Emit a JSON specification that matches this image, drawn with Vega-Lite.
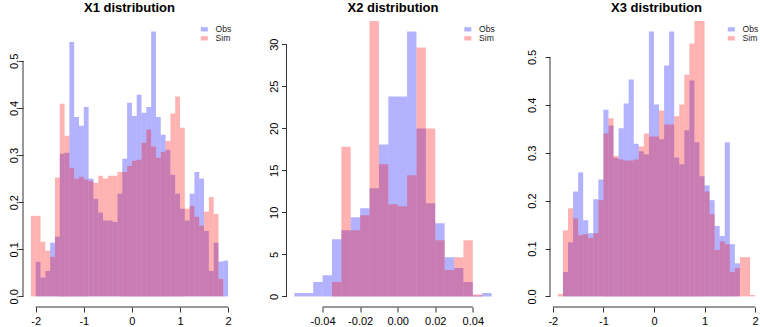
{
  "$schema": "https://vega.github.io/schema/vega-lite/v6.json",
  "padding": {"left": 8, "top": 1, "right": 0, "bottom": 8},
  "bounds": "flush",
  "spacing": 50.5,
  "config": {
    "view": {"stroke": null},
    "font": "Liberation Sans",
    "axis": {"domain": false, "grid": false, "title": null, "labelFont": "Liberation Sans", "labelFontSize": 11, "labelColor": "#000", "tickColor": "#333", "tickSize": 5, "labelFlush": false, "labelOverlap": false},
    "axisX": {"labelPadding": 12.5, "labelBaseline": "alphabetic"},
    "axisY": {"labelAngle": 270, "labelAlign": "center", "labelBaseline": "alphabetic", "labelPadding": 1},
    "title": {"fontSize": 13, "fontWeight": "bold", "color": "#000", "anchor": "middle", "offset": 6.5, "baseline": "alphabetic", "font": "Liberation Sans"},
    "legend": {"title": null, "orient": "top-right", "offset": 4, "padding": 0, "symbolType": "M-1,-0.62H1V0.62H-1Z", "symbolSize": 49, "symbolStrokeWidth": 0, "labelFontSize": 8.6, "labelFont": "Liberation Sans", "labelColor": "#222", "labelOffset": 7, "rowPadding": 0}
  },
  "resolve": {"scale": {"color": "independent"}, "legend": {"color": "independent"}},
  "datasets": {
    "x1": [
      {"series":"Obs","lo":-2.0,"hi":-1.9,"density":0.0735},
      {"series":"Obs","lo":-1.9,"hi":-1.8,"density":0.040},
      {"series":"Obs","lo":-1.8,"hi":-1.7,"density":0.054},
      {"series":"Obs","lo":-1.7,"hi":-1.6,"density":0.114},
      {"series":"Obs","lo":-1.6,"hi":-1.5,"density":0.127},
      {"series":"Obs","lo":-1.5,"hi":-1.4,"density":0.303},
      {"series":"Obs","lo":-1.4,"hi":-1.3,"density":0.305},
      {"series":"Obs","lo":-1.3,"hi":-1.2,"density":0.540},
      {"series":"Obs","lo":-1.2,"hi":-1.1,"density":0.381},
      {"series":"Obs","lo":-1.1,"hi":-1.0,"density":0.362},
      {"series":"Obs","lo":-1.0,"hi":-0.9,"density":0.402},
      {"series":"Obs","lo":-0.9,"hi":-0.8,"density":0.250},
      {"series":"Obs","lo":-0.8,"hi":-0.7,"density":0.207},
      {"series":"Obs","lo":-0.7,"hi":-0.6,"density":0.178},
      {"series":"Obs","lo":-0.6,"hi":-0.5,"density":0.161},
      {"series":"Obs","lo":-0.5,"hi":-0.4,"density":0.161},
      {"series":"Obs","lo":-0.4,"hi":-0.3,"density":0.158},
      {"series":"Obs","lo":-0.3,"hi":-0.2,"density":0.218},
      {"series":"Obs","lo":-0.2,"hi":-0.1,"density":0.292},
      {"series":"Obs","lo":-0.1,"hi":0.0,"density":0.411},
      {"series":"Obs","lo":0.0,"hi":0.1,"density":0.383},
      {"series":"Obs","lo":0.1,"hi":0.2,"density":0.428},
      {"series":"Obs","lo":0.2,"hi":0.3,"density":0.390},
      {"series":"Obs","lo":0.3,"hi":0.4,"density":0.402},
      {"series":"Obs","lo":0.4,"hi":0.5,"density":0.562},
      {"series":"Obs","lo":0.5,"hi":0.6,"density":0.381},
      {"series":"Obs","lo":0.6,"hi":0.7,"density":0.343},
      {"series":"Obs","lo":0.7,"hi":0.8,"density":0.311},
      {"series":"Obs","lo":0.8,"hi":0.9,"density":0.258},
      {"series":"Obs","lo":0.9,"hi":1.0,"density":0.218},
      {"series":"Obs","lo":1.0,"hi":1.1,"density":0.186},
      {"series":"Obs","lo":1.1,"hi":1.2,"density":0.161},
      {"series":"Obs","lo":1.2,"hi":1.3,"density":0.218},
      {"series":"Obs","lo":1.3,"hi":1.4,"density":0.264},
      {"series":"Obs","lo":1.4,"hi":1.5,"density":0.250},
      {"series":"Obs","lo":1.5,"hi":1.6,"density":0.139},
      {"series":"Obs","lo":1.6,"hi":1.7,"density":0.054},
      {"series":"Obs","lo":1.7,"hi":1.8,"density":0.114},
      {"series":"Obs","lo":1.8,"hi":1.9,"density":0.074},
      {"series":"Obs","lo":1.9,"hi":2.0,"density":0.076},
      {"series":"Sim","lo":-2.1,"hi":-2.0,"density":0.171},
      {"series":"Sim","lo":-2.0,"hi":-1.9,"density":0.171},
      {"series":"Sim","lo":-1.9,"hi":-1.8,"density":0.116},
      {"series":"Sim","lo":-1.8,"hi":-1.7,"density":0.097},
      {"series":"Sim","lo":-1.7,"hi":-1.6,"density":0.084},
      {"series":"Sim","lo":-1.6,"hi":-1.5,"density":0.252},
      {"series":"Sim","lo":-1.5,"hi":-1.4,"density":0.409},
      {"series":"Sim","lo":-1.4,"hi":-1.3,"density":0.341},
      {"series":"Sim","lo":-1.3,"hi":-1.2,"density":0.273},
      {"series":"Sim","lo":-1.2,"hi":-1.1,"density":0.250},
      {"series":"Sim","lo":-1.1,"hi":-1.0,"density":0.254},
      {"series":"Sim","lo":-1.0,"hi":-0.9,"density":0.248},
      {"series":"Sim","lo":-0.9,"hi":-0.8,"density":0.245},
      {"series":"Sim","lo":-0.8,"hi":-0.7,"density":0.241},
      {"series":"Sim","lo":-0.7,"hi":-0.6,"density":0.256},
      {"series":"Sim","lo":-0.6,"hi":-0.5,"density":0.250},
      {"series":"Sim","lo":-0.5,"hi":-0.4,"density":0.256},
      {"series":"Sim","lo":-0.4,"hi":-0.3,"density":0.256},
      {"series":"Sim","lo":-0.3,"hi":-0.2,"density":0.264},
      {"series":"Sim","lo":-0.2,"hi":-0.1,"density":0.264},
      {"series":"Sim","lo":-0.1,"hi":0.0,"density":0.277},
      {"series":"Sim","lo":0.0,"hi":0.1,"density":0.288},
      {"series":"Sim","lo":0.1,"hi":0.2,"density":0.290},
      {"series":"Sim","lo":0.2,"hi":0.3,"density":0.326},
      {"series":"Sim","lo":0.3,"hi":0.4,"density":0.354},
      {"series":"Sim","lo":0.4,"hi":0.5,"density":0.318},
      {"series":"Sim","lo":0.5,"hi":0.6,"density":0.294},
      {"series":"Sim","lo":0.6,"hi":0.7,"density":0.307},
      {"series":"Sim","lo":0.7,"hi":0.8,"density":0.330},
      {"series":"Sim","lo":0.8,"hi":0.9,"density":0.388},
      {"series":"Sim","lo":0.9,"hi":1.0,"density":0.424},
      {"series":"Sim","lo":1.0,"hi":1.1,"density":0.358},
      {"series":"Sim","lo":1.1,"hi":1.2,"density":0.186},
      {"series":"Sim","lo":1.2,"hi":1.3,"density":0.192},
      {"series":"Sim","lo":1.3,"hi":1.4,"density":0.169},
      {"series":"Sim","lo":1.4,"hi":1.5,"density":0.150},
      {"series":"Sim","lo":1.5,"hi":1.6,"density":0.180},
      {"series":"Sim","lo":1.6,"hi":1.7,"density":0.211},
      {"series":"Sim","lo":1.7,"hi":1.8,"density":0.175},
      {"series":"Sim","lo":1.8,"hi":1.9,"density":0.037}
    ],
    "x2": [
      {"series":"Obs","lo":-0.055,"hi":-0.05,"density":0.40},
      {"series":"Obs","lo":-0.05,"hi":-0.045,"density":0.40},
      {"series":"Obs","lo":-0.045,"hi":-0.04,"density":1.70},
      {"series":"Obs","lo":-0.04,"hi":-0.035,"density":2.53},
      {"series":"Obs","lo":-0.035,"hi":-0.03,"density":6.81},
      {"series":"Obs","lo":-0.03,"hi":-0.025,"density":7.88},
      {"series":"Obs","lo":-0.025,"hi":-0.02,"density":9.42},
      {"series":"Obs","lo":-0.02,"hi":-0.015,"density":10.49},
      {"series":"Obs","lo":-0.015,"hi":-0.01,"density":12.87},
      {"series":"Obs","lo":-0.01,"hi":-0.005,"density":18.08},
      {"series":"Obs","lo":-0.005,"hi":0.0,"density":23.78},
      {"series":"Obs","lo":0.0,"hi":0.005,"density":23.78},
      {"series":"Obs","lo":0.005,"hi":0.01,"density":31.5},
      {"series":"Obs","lo":0.01,"hi":0.015,"density":19.98},
      {"series":"Obs","lo":0.015,"hi":0.02,"density":11.08},
      {"series":"Obs","lo":0.02,"hi":0.025,"density":8.71},
      {"series":"Obs","lo":0.025,"hi":0.03,"density":4.67},
      {"series":"Obs","lo":0.03,"hi":0.035,"density":3.37},
      {"series":"Obs","lo":0.035,"hi":0.04,"density":1.70},
      {"series":"Obs","lo":0.04,"hi":0.045,"density":0.12},
      {"series":"Obs","lo":0.045,"hi":0.05,"density":0.40},
      {"series":"Sim","lo":-0.035,"hi":-0.03,"density":1.70},
      {"series":"Sim","lo":-0.03,"hi":-0.025,"density":17.8},
      {"series":"Sim","lo":-0.025,"hi":-0.02,"density":7.88},
      {"series":"Sim","lo":-0.02,"hi":-0.015,"density":9.66},
      {"series":"Sim","lo":-0.015,"hi":-0.01,"density":33.2},
      {"series":"Sim","lo":-0.01,"hi":-0.005,"density":15.71},
      {"series":"Sim","lo":-0.005,"hi":0.0,"density":10.96},
      {"series":"Sim","lo":0.0,"hi":0.005,"density":10.72},
      {"series":"Sim","lo":0.005,"hi":0.01,"density":14.40},
      {"series":"Sim","lo":0.01,"hi":0.015,"density":29.6},
      {"series":"Sim","lo":0.015,"hi":0.02,"density":19.98},
      {"series":"Sim","lo":0.02,"hi":0.025,"density":6.69},
      {"series":"Sim","lo":0.025,"hi":0.03,"density":3.13},
      {"series":"Sim","lo":0.03,"hi":0.035,"density":4.67},
      {"series":"Sim","lo":0.035,"hi":0.04,"density":6.69},
      {"series":"Sim","lo":0.04,"hi":0.045,"density":0.24}
    ],
    "x3": [
      {"series":"Obs","lo":-1.8,"hi":-1.7,"density":0.051},
      {"series":"Obs","lo":-1.7,"hi":-1.6,"density":0.113},
      {"series":"Obs","lo":-1.6,"hi":-1.5,"density":0.219},
      {"series":"Obs","lo":-1.5,"hi":-1.4,"density":0.259},
      {"series":"Obs","lo":-1.4,"hi":-1.3,"density":0.159},
      {"series":"Obs","lo":-1.3,"hi":-1.2,"density":0.132},
      {"series":"Obs","lo":-1.2,"hi":-1.1,"density":0.203},
      {"series":"Obs","lo":-1.1,"hi":-1.0,"density":0.244},
      {"series":"Obs","lo":-1.0,"hi":-0.9,"density":0.390},
      {"series":"Obs","lo":-0.9,"hi":-0.8,"density":0.357},
      {"series":"Obs","lo":-0.8,"hi":-0.7,"density":0.289},
      {"series":"Obs","lo":-0.7,"hi":-0.6,"density":0.351},
      {"series":"Obs","lo":-0.6,"hi":-0.5,"density":0.403},
      {"series":"Obs","lo":-0.5,"hi":-0.4,"density":0.453},
      {"series":"Obs","lo":-0.4,"hi":-0.3,"density":0.319},
      {"series":"Obs","lo":-0.3,"hi":-0.2,"density":0.303},
      {"series":"Obs","lo":-0.2,"hi":-0.1,"density":0.297},
      {"series":"Obs","lo":-0.1,"hi":0.0,"density":0.553},
      {"series":"Obs","lo":0.0,"hi":0.1,"density":0.401},
      {"series":"Obs","lo":0.1,"hi":0.2,"density":0.328},
      {"series":"Obs","lo":0.2,"hi":0.3,"density":0.482},
      {"series":"Obs","lo":0.3,"hi":0.4,"density":0.553},
      {"series":"Obs","lo":0.4,"hi":0.5,"density":0.290},
      {"series":"Obs","lo":0.5,"hi":0.6,"density":0.276},
      {"series":"Obs","lo":0.6,"hi":0.7,"density":0.347},
      {"series":"Obs","lo":0.7,"hi":0.8,"density":0.451},
      {"series":"Obs","lo":0.8,"hi":0.9,"density":0.322},
      {"series":"Obs","lo":0.9,"hi":1.0,"density":0.251},
      {"series":"Obs","lo":1.0,"hi":1.1,"density":0.232},
      {"series":"Obs","lo":1.1,"hi":1.2,"density":0.201},
      {"series":"Obs","lo":1.2,"hi":1.3,"density":0.147},
      {"series":"Obs","lo":1.3,"hi":1.4,"density":0.126},
      {"series":"Obs","lo":1.4,"hi":1.5,"density":0.322},
      {"series":"Obs","lo":1.5,"hi":1.6,"density":0.109},
      {"series":"Obs","lo":1.6,"hi":1.7,"density":0.069},
      {"series":"Sim","lo":-1.9,"hi":-1.8,"density":0.005},
      {"series":"Sim","lo":-1.8,"hi":-1.7,"density":0.138},
      {"series":"Sim","lo":-1.7,"hi":-1.6,"density":0.184},
      {"series":"Sim","lo":-1.6,"hi":-1.5,"density":0.163},
      {"series":"Sim","lo":-1.5,"hi":-1.4,"density":0.128},
      {"series":"Sim","lo":-1.4,"hi":-1.3,"density":0.130},
      {"series":"Sim","lo":-1.3,"hi":-1.2,"density":0.122},
      {"series":"Sim","lo":-1.2,"hi":-1.1,"density":0.132},
      {"series":"Sim","lo":-1.1,"hi":-1.0,"density":0.201},
      {"series":"Sim","lo":-1.0,"hi":-0.9,"density":0.340},
      {"series":"Sim","lo":-0.9,"hi":-0.8,"density":0.372},
      {"series":"Sim","lo":-0.8,"hi":-0.7,"density":0.293},
      {"series":"Sim","lo":-0.7,"hi":-0.6,"density":0.286},
      {"series":"Sim","lo":-0.6,"hi":-0.5,"density":0.284},
      {"series":"Sim","lo":-0.5,"hi":-0.4,"density":0.284},
      {"series":"Sim","lo":-0.4,"hi":-0.3,"density":0.286},
      {"series":"Sim","lo":-0.3,"hi":-0.2,"density":0.313},
      {"series":"Sim","lo":-0.2,"hi":-0.1,"density":0.340},
      {"series":"Sim","lo":-0.1,"hi":0.0,"density":0.334},
      {"series":"Sim","lo":0.0,"hi":0.1,"density":0.334},
      {"series":"Sim","lo":0.1,"hi":0.2,"density":0.388},
      {"series":"Sim","lo":0.2,"hi":0.3,"density":0.359},
      {"series":"Sim","lo":0.3,"hi":0.4,"density":0.359},
      {"series":"Sim","lo":0.4,"hi":0.5,"density":0.376},
      {"series":"Sim","lo":0.5,"hi":0.6,"density":0.401},
      {"series":"Sim","lo":0.6,"hi":0.7,"density":0.463},
      {"series":"Sim","lo":0.7,"hi":0.8,"density":0.528},
      {"series":"Sim","lo":0.8,"hi":0.9,"density":0.585},
      {"series":"Sim","lo":0.9,"hi":1.0,"density":0.585},
      {"series":"Sim","lo":1.0,"hi":1.1,"density":0.219},
      {"series":"Sim","lo":1.1,"hi":1.2,"density":0.172},
      {"series":"Sim","lo":1.2,"hi":1.3,"density":0.097},
      {"series":"Sim","lo":1.3,"hi":1.4,"density":0.115},
      {"series":"Sim","lo":1.4,"hi":1.5,"density":0.109},
      {"series":"Sim","lo":1.5,"hi":1.6,"density":0.051},
      {"series":"Sim","lo":1.6,"hi":1.7,"density":0.059},
      {"series":"Sim","lo":1.7,"hi":1.8,"density":0.082},
      {"series":"Sim","lo":1.8,"hi":1.9,"density":0.082},
      {"series":"Sim","lo":1.9,"hi":2.0,"density":0.003}
    ]
  },
  "hconcat": [
    {
      "width": 213, "height": 286,
      "title": "X1 distribution",
      "layer": [
        {
          "data": {"name": "x1"},
          "mark": {"type": "bar", "clip": true, "strokeWidth": 0},
          "encoding": {
            "x": {"field": "lo", "type": "quantitative", "scale": {"domain": [-2.264, 2.164], "nice": false, "zero": false},
                  "axis": {"values": [-2, -1, 0, 1, 2], "labelExpr": "datum.value < 0 ? '-' + format(-datum.value, 'd') : format(datum.value, 'd')"}},
            "x2": {"field": "hi"},
            "y": {"field": "density", "type": "quantitative", "scale": {"domain": [-0.0225, 0.5845], "nice": false, "zero": false},
                  "axis": {"values": [0, 0.1, 0.2, 0.3, 0.4, 0.5], "format": ".1f", "labelPadding": 1}},
            "y2": {"datum": 0},
            "color": {"field": "series", "type": "nominal", "scale": {"domain": ["Obs", "Sim"], "range": ["rgba(0,0,255,0.3)", "rgba(255,0,0,0.3)"]}}
          }
        },
        {
          "data": {"values": [{}]},
          "mark": {"type": "rule", "color": "#333", "strokeWidth": 1},
          "encoding": {"x": {"datum": -2}, "x2": {"datum": 2}, "y": {"datum": -0.0225}}
        },
        {
          "data": {"values": [{}]},
          "mark": {"type": "rule", "color": "#333", "strokeWidth": 1},
          "encoding": {"x": {"datum": -2.264}, "y": {"datum": 0}, "y2": {"datum": 0.5}}
        }
      ]
    },
    {
      "width": 213, "height": 286,
      "title": "X2 distribution",
      "layer": [
        {
          "data": {"name": "x2"},
          "mark": {"type": "bar", "clip": true, "strokeWidth": 0},
          "encoding": {
            "x": {"field": "lo", "type": "quantitative", "scale": {"domain": [-0.0592, 0.0542], "nice": false, "zero": false},
                  "axis": {"values": [-0.04, -0.02, 0, 0.02, 0.04], "labelExpr": "datum.value < 0 ? '-' + format(-datum.value, '.2f') : format(datum.value, '.2f')"}},
            "x2": {"field": "hi"},
            "y": {"field": "density", "type": "quantitative", "scale": {"domain": [-1.26, 32.76], "nice": false, "zero": false},
                  "axis": {"values": [0, 5, 10, 15, 20, 25, 30], "format": "d", "labelPadding": 4}},
            "y2": {"datum": 0},
            "color": {"field": "series", "type": "nominal", "scale": {"domain": ["Obs", "Sim"], "range": ["rgba(0,0,255,0.3)", "rgba(255,0,0,0.3)"]}}
          }
        },
        {
          "data": {"values": [{}]},
          "mark": {"type": "rule", "color": "#333", "strokeWidth": 1},
          "encoding": {"x": {"datum": -0.04}, "x2": {"datum": 0.04}, "y": {"datum": -1.26}}
        },
        {
          "data": {"values": [{}]},
          "mark": {"type": "rule", "color": "#333", "strokeWidth": 1},
          "encoding": {"x": {"datum": -0.0592}, "y": {"datum": 0}, "y2": {"datum": 30}}
        }
      ]
    },
    {
      "width": 213, "height": 286,
      "title": "X3 distribution",
      "layer": [
        {
          "data": {"name": "x3"},
          "mark": {"type": "bar", "clip": true, "strokeWidth": 0},
          "encoding": {
            "x": {"field": "lo", "type": "quantitative", "scale": {"domain": [-2.056, 2.156], "nice": false, "zero": false},
                  "axis": {"values": [-2, -1, 0, 1, 2], "labelExpr": "datum.value < 0 ? '-' + format(-datum.value, 'd') : format(datum.value, 'd')"}},
            "x2": {"field": "hi"},
            "y": {"field": "density", "type": "quantitative", "scale": {"domain": [-0.0221, 0.5751], "nice": false, "zero": false},
                  "axis": {"values": [0, 0.1, 0.2, 0.3, 0.4, 0.5], "format": ".1f", "labelPadding": 10}},
            "y2": {"datum": 0},
            "color": {"field": "series", "type": "nominal", "scale": {"domain": ["Obs", "Sim"], "range": ["rgba(0,0,255,0.3)", "rgba(255,0,0,0.3)"]}}
          }
        },
        {
          "data": {"values": [{}]},
          "mark": {"type": "rule", "color": "#333", "strokeWidth": 1},
          "encoding": {"x": {"datum": -2}, "x2": {"datum": 2}, "y": {"datum": -0.0221}}
        },
        {
          "data": {"values": [{}]},
          "mark": {"type": "rule", "color": "#333", "strokeWidth": 1},
          "encoding": {"x": {"datum": -2.056}, "y": {"datum": 0}, "y2": {"datum": 0.5}}
        }
      ]
    }
  ]
}
